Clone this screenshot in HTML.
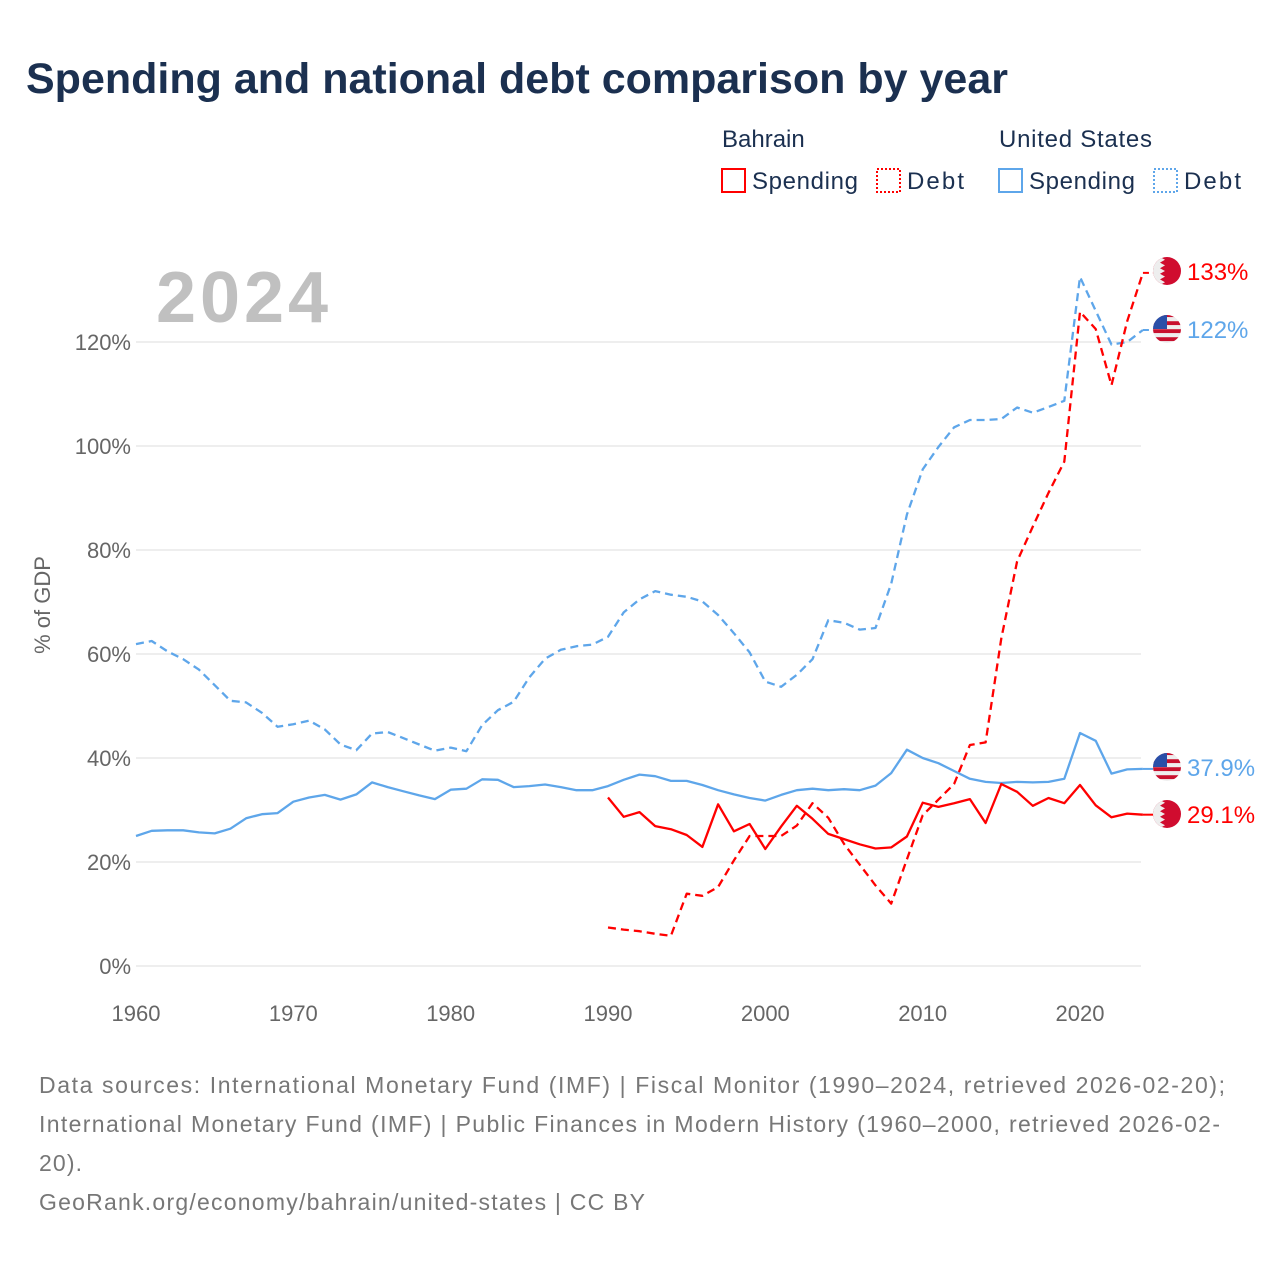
<!DOCTYPE html>
<html><head><meta charset="utf-8">
<style>
body{margin:0;background:#fff;width:1280px;height:1280px;overflow:hidden;font-family:"Liberation Sans",sans-serif;}
svg text{font-family:"Liberation Sans",sans-serif;}
</style></head>
<body>
<svg id="chart" width="1280" height="1280" xmlns="http://www.w3.org/2000/svg">
<text x="26" y="93" font-size="43" font-weight="bold" fill="#1b3050">Spending and national debt comparison by year</text>
<g>
<text x="722" y="147" font-size="24" fill="#1b3050">Bahrain</text>
<text x="999" y="147" font-size="24" fill="#1b3050" textLength="153">United States</text>
<rect x="722" y="169" width="23" height="23" fill="none" stroke="#f00" stroke-width="2"/>
<text x="752" y="189" font-size="24" fill="#1b3050" textLength="106">Spending</text>
<rect x="877" y="169" width="23" height="23" fill="none" stroke="#f00" stroke-width="2" stroke-dasharray="2,2"/>
<text x="907" y="189" font-size="24" fill="#1b3050" textLength="57">Debt</text>
<rect x="999" y="169" width="23" height="23" fill="none" stroke="#5ea6ea" stroke-width="2"/>
<text x="1029" y="189" font-size="24" fill="#1b3050" textLength="106">Spending</text>
<rect x="1154" y="169" width="23" height="23" fill="none" stroke="#5ea6ea" stroke-width="2" stroke-dasharray="2,2"/>
<text x="1184" y="189" font-size="24" fill="#1b3050" textLength="57">Debt</text>
</g>
<text x="156" y="322" font-size="72" font-weight="bold" fill="#c0c0c0" textLength="172">2024</text>
<text transform="translate(50,605) rotate(-90)" text-anchor="middle" font-size="22" fill="#666">% of GDP</text>
<g id="grid"></g><g id="series"></g><g id="ends"></g>
<g font-size="23" fill="#777">
<text x="39" y="1093" textLength="1186">Data sources: International Monetary Fund (IMF) | Fiscal Monitor (1990–2024, retrieved 2026-02-20);</text>
<text x="39" y="1132" textLength="1181">International Monetary Fund (IMF) | Public Finances in Modern History (1960–2000, retrieved 2026-02-</text>
<text x="39" y="1171" textLength="43">20).</text>
<text x="39" y="1210" textLength="606">GeoRank.org/economy/bahrain/united-states | CC BY</text>
</g>
</svg>
<script>
const usYears=[1960,1961,1962,1963,1964,1965,1966,1967,1968,1969,1970,1971,1972,1973,1974,1975,1976,1977,1978,1979,1980,1981,1982,1983,1984,1985,1986,1987,1988,1989,1990,1991,1992,1993,1994,1995,1996,1997,1998,1999,2000,2001,2002,2003,2004,2005,2006,2007,2008,2009,2010,2011,2012,2013,2014,2015,2016,2017,2018,2019,2020,2021,2022,2023,2024];
const usDebt=[61.9,62.5,60.5,59,57,54,51,50.7,48.7,46,46.5,47.2,45.5,42.6,41.5,44.7,45,43.8,42.6,41.4,42,41.3,46.3,49.2,50.8,55.5,59.1,60.8,61.5,61.8,63.3,68,70.5,72.1,71.4,71,70.1,67.5,64,60.3,54.7,53.7,56,59,66.5,66,64.7,65,73.5,86.8,95.5,99.8,103.6,105,105,105.2,107.4,106.4,107.5,108.7,132.5,126,119.5,120,122.3];
const usSpending=[25,26,26.1,26.1,25.7,25.5,26.4,28.4,29.2,29.4,31.6,32.4,32.9,32,33,35.3,34.4,33.6,32.8,32.1,33.9,34.1,35.9,35.8,34.4,34.6,34.9,34.4,33.8,33.8,34.6,35.8,36.8,36.5,35.6,35.6,34.8,33.8,33,32.3,31.8,32.9,33.8,34.1,33.8,34,33.8,34.7,37.1,41.6,40,39,37.5,36,35.4,35.2,35.4,35.3,35.4,36,44.8,43.3,37,37.8,37.9];
const bhYears=[1990,1991,1992,1993,1994,1995,1996,1997,1998,1999,2000,2001,2002,2003,2004,2005,2006,2007,2008,2009,2010,2011,2012,2013,2014,2015,2016,2017,2018,2019,2020,2021,2022,2023,2024];
const bhSpending=[32.4,28.7,29.6,26.9,26.3,25.2,22.9,31.1,25.9,27.3,22.5,26.8,30.8,28.3,25.4,24.4,23.4,22.6,22.8,24.9,31.4,30.6,31.3,32.1,27.5,35,33.5,30.8,32.3,31.3,34.8,30.9,28.6,29.3,29.1];
const bhDebt=[7.4,7,6.7,6.2,5.8,13.9,13.5,15.2,20.3,25,25,25,27,31.3,28.5,23.5,19.5,15.5,12,20.5,29,32,35,42.5,43,63,77.8,84.5,91,97,125.8,122.5,111.7,124,133.3];
const yTicks=[0,20,40,60,80,100,120];
const xTicks=[1960,1970,1980,1990,2000,2010,2020];

const NS='http://www.w3.org/2000/svg';
const X=y=>136+(y-1960)*944/60;
const Y=v=>966-v*5.2;
function mk(tag,attrs,parent){const e=document.createElementNS(NS,tag);for(const k in attrs)e.setAttribute(k,attrs[k]);parent.appendChild(e);return e;}
const grid=document.getElementById('grid');
yTicks.forEach(t=>{
  const l=mk('line',{x1:136,x2:1141,y1:Y(t),y2:Y(t),stroke:'#e8e8e8','stroke-width':1.5},grid);
  
  
  const tx=mk('text',{x:131,y:Y(t)+8,'text-anchor':'end','font-size':22,fill:'#666'},grid);
  tx.textContent=t+'%';
  
  
});
xTicks.forEach(t=>{
  const tx=mk('text',{x:X(t),y:1021,'text-anchor':'middle','font-size':22,fill:'#666'},grid);
  tx.textContent=t;
  
  
});
const series=document.getElementById('series');
function line(years,vals,color,dash,name){
  const d=years.map((y,i)=>(i?'L':'M')+X(y).toFixed(1)+','+Y(vals[i]).toFixed(1)).join('');
  const p=mk('path',{d:d,fill:'none',stroke:color,'stroke-width':2.3,'stroke-linejoin':'round'},series);
  if(dash)p.setAttribute('stroke-dasharray','8,5');
  
  
}
const RED='#f00',BLUE='#5ea6ea';
line(usYears,usDebt,BLUE,true,'us-debt-line');
line(usYears,usSpending,BLUE,false,'us-spending-line');
line(bhYears,bhDebt,RED,true,'bahrain-debt-line');
line(bhYears,bhSpending,RED,false,'bahrain-spending-line');
const ends=document.getElementById('ends');
let fid=0;
function flag(cy,kind,val,color,label,name){
  const cx=1167;
  const lastX=X(2024);
  const c=mk('line',{x1:lastX,x2:cx-14,y1:Y(val),y2:Y(val),stroke:color,'stroke-width':2,'stroke-dasharray':kind==='bh-d'||kind==='us-d'?'6,4':''},ends);
  
  
  const g=mk('g',{},ends);
  
  
  const id='cf'+(fid++);
  const cp=mk('clipPath',{id:id},g);mk('circle',{cx:cx,cy:cy,r:14},cp);
  const inner=mk('g',{'clip-path':'url(#'+id+')'},g);
  if(kind.startsWith('bh')){
    mk('rect',{x:cx-14,y:cy-14,width:28,height:28,fill:'#d00c2f'},inner);
    let pts=`${cx-14},${cy-14} `;
    for(let i=0;i<5;i++){const y0=cy-14+i*5.6;pts+=`${cx-7},${y0} ${cx-2},${y0+2.8} `;}
    pts+=`${cx-7},${cy+14} ${cx-14},${cy+14}`;
    mk('polygon',{points:pts,fill:'#eee'},inner);
  }else{
    for(let i=0;i<7;i++){mk('rect',{x:cx-14,y:cy-14+i*4,width:28,height:2.2,fill:i%2?'#eee':'#c8102e'},inner);mk('rect',{x:cx-14,y:cy-11.8+i*4,width:28,height:1.8,fill:i%2?'#c8102e':'#eee'},inner);}
    mk('rect',{x:cx-14,y:cy-14,width:14,height:14,fill:'#2a4fa8'},inner);
  }
  const t=mk('text',{x:cx+20,y:cy+9,'font-size':24,fill:color},ends);
  t.textContent=label;
  
  
}
flag(271,'bh-d',bhDebt[bhDebt.length-1],RED,'133%','bahrain-debt-end-label');
flag(329,'us-d',usDebt[usDebt.length-1],BLUE,'122%','us-debt-end-label');
flag(767,'us-s',usSpending[usSpending.length-1],BLUE,'37.9%','us-spending-end-label');
flag(814,'bh-s',bhSpending[bhSpending.length-1],RED,'29.1%','bahrain-spending-end-label');
</script>
</body></html>
